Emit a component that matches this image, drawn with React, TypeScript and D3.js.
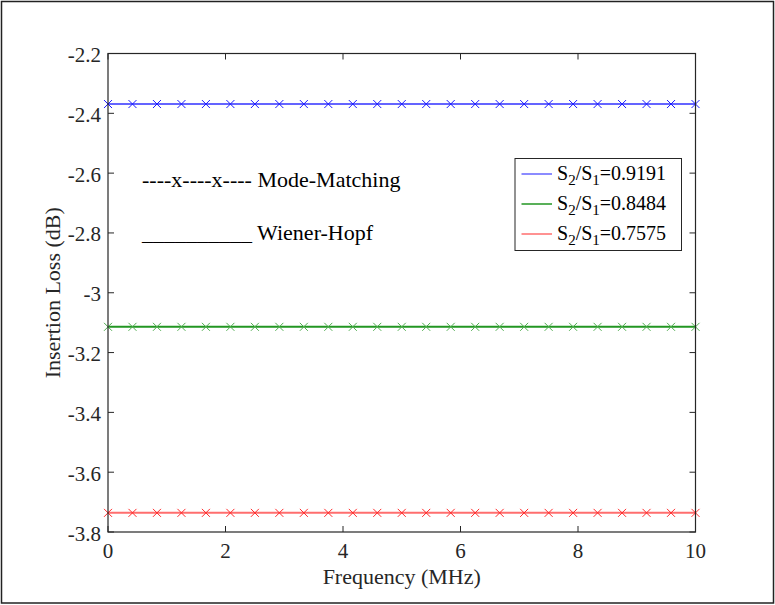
import React from "react";
import * as d3 from "d3";

const freqs: number[] = [0, 0.4167, 0.8333, 1.25, 1.6667, 2.0833, 2.5, 2.9167, 3.3333, 3.75, 4.1667, 4.5833, 5, 5.4167, 5.8333, 6.25, 6.6667, 7.0833, 7.5, 7.9167, 8.3333, 8.75, 9.1667, 9.5833, 10];
const blueValues: number[] = [-2.369, -2.369, -2.369, -2.369, -2.369, -2.369, -2.369, -2.369, -2.369, -2.369, -2.369, -2.369, -2.369, -2.369, -2.369, -2.369, -2.369, -2.369, -2.369, -2.369, -2.369, -2.369, -2.369, -2.369, -2.369];
const greenValues: number[] = [-3.114, -3.114, -3.114, -3.114, -3.114, -3.114, -3.114, -3.114, -3.114, -3.114, -3.114, -3.114, -3.114, -3.114, -3.114, -3.114, -3.114, -3.114, -3.114, -3.114, -3.114, -3.114, -3.114, -3.114, -3.114];
const redValues: number[] = [-3.736, -3.736, -3.736, -3.736, -3.736, -3.736, -3.736, -3.736, -3.736, -3.736, -3.736, -3.736, -3.736, -3.736, -3.736, -3.736, -3.736, -3.736, -3.736, -3.736, -3.736, -3.736, -3.736, -3.736, -3.736];
const seriesLabels: string[] = ["0.9191", "0.8484", "0.7575"];
const xTicks: number[] = [0, 2, 4, 6, 8, 10];
const yTicks: number[] = [-2.2, -2.4, -2.6, -2.8, -3, -3.2, -3.4, -3.6, -3.8];

const W = 775, H = 605;
const L = 108, R = 695.5, T = 53.5, B = 532;
const FONT = '"Liberation Serif", "Times New Roman", serif';

const series = [
  { values: blueValues, line: "#6464ff", marker: "#1a1aff", label: seriesLabels[0] },
  { values: greenValues, line: "#229622", marker: "#50ad50", label: seriesLabels[1] },
  { values: redValues, line: "#ff6e6e", marker: "#ff2a2a", label: seriesLabels[2] },
];

export default function App() {
  const x = d3.scaleLinear().domain([0, 10]).range([L, R]);
  const y = d3.scaleLinear().domain([-3.8, -2.2]).range([B, T]);
  const lineGen = d3.line<number>().x((_, i) => x(freqs[i])).y((d) => y(d));
  const tick = 6;
  const ms = 4;
  const ts = { fontFamily: FONT };
  return (
    <svg width={W} height={H} style={{ position: "absolute", left: 0, top: 0, background: "#fff" }}>
      <rect x={0} y={0} width={W} height={H} fill="#fff" />
      <rect x={1.5} y={1.5} width={W - 3} height={H - 3.5} fill="none" stroke="#222" strokeWidth={1.5} />
      {series.map((s, k) => (
        <g key={k}>
          <path d={lineGen(s.values) || ""} fill="none" stroke={s.line} strokeWidth={2} />
          {s.values.map((v, i) => (
            <g key={i} stroke={s.marker} strokeWidth={1}>
              <line x1={x(freqs[i]) - ms} y1={y(v) - ms} x2={x(freqs[i]) + ms} y2={y(v) + ms} />
              <line x1={x(freqs[i]) - ms} y1={y(v) + ms} x2={x(freqs[i]) + ms} y2={y(v) - ms} />
            </g>
          ))}
        </g>
      ))}
      <rect x={L} y={T} width={R - L} height={B - T} fill="none" stroke="#262626" strokeWidth={1.2} />
      {xTicks.map((t) => (
        <g key={"x" + t}>
          <line x1={x(t)} x2={x(t)} y1={B} y2={B - tick} stroke="#262626" />
          <line x1={x(t)} x2={x(t)} y1={T} y2={T + tick} stroke="#262626" />
          <text x={x(t)} y={B + 26} textAnchor="middle" style={ts} fontSize={21} fill="#262626">{t}</text>
        </g>
      ))}
      {yTicks.map((t) => (
        <g key={"y" + t}>
          <line x1={L} x2={L + tick} y1={y(t)} y2={y(t)} stroke="#262626" />
          <line x1={R} x2={R - tick} y1={y(t)} y2={y(t)} stroke="#262626" />
          <text x={L - 7} y={y(t) + 8.5} textAnchor="end" style={ts} fontSize={21} fill="#262626">{String(t)}</text>
        </g>
      ))}
      <text x={(L + R) / 2} y={584} textAnchor="middle" style={ts} fontSize={22} fill="#262626">Frequency (MHz)</text>
      <text transform={`translate(60, ${(T + B) / 2}) rotate(-90)`} textAnchor="middle" style={ts} fontSize={22} fill="#262626">Insertion Loss (dB)</text>
      <text x={142} y={187} style={ts} fontSize={22} fill="#000">----x----x---- Mode-Matching</text>
      <text x={142} y={240} style={ts} fontSize={22} fill="#000">__________ Wiener-Hopf</text>
      <rect x={515} y={158.5} width={166.5} height={92} fill="#fff" stroke="#262626" strokeWidth={1} />
      {series.map((s, k) => {
        const cy = 174 + k * 30;
        return (
          <g key={"lg" + k}>
            <line x1={521.5} x2={552} y1={cy} y2={cy} stroke={s.line} strokeWidth={1.5} />
            <text x={557} y={cy + 6} style={ts} fontSize={20} fill="#000">
              S<tspan dy={5} fontSize={15}>2</tspan><tspan dy={-5}>/S</tspan><tspan dy={5} fontSize={15}>1</tspan><tspan dy={-5}>={s.label}</tspan>
            </text>
          </g>
        );
      })}
    </svg>
  );
}
